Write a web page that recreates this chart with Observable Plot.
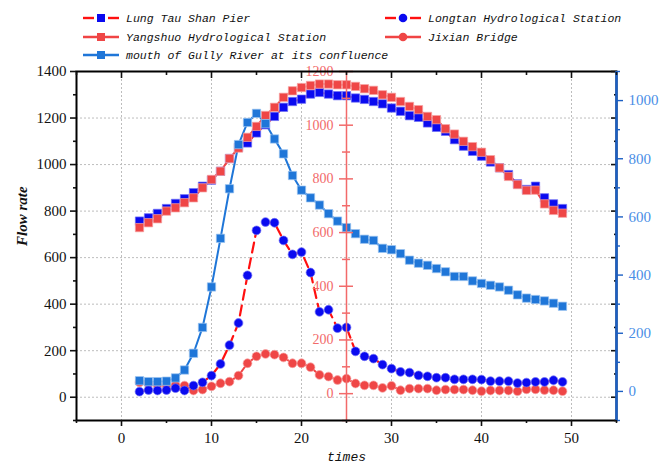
<!DOCTYPE html>
<html><head><meta charset="utf-8">
<script src="https://cdn.jsdelivr.net/npm/d3@7"></script>
<script src="https://cdn.jsdelivr.net/npm/@observablehq/plot@0.6"></script>
<style>
html,body{margin:0;padding:0;background:#fff;}
#wrap{position:relative;width:672px;height:466px;overflow:hidden;}
#legend{position:absolute;left:0;top:0;width:672px;height:68px;font-family:"Liberation Mono",monospace;font-style:italic;font-size:11.5px;color:#111;}
.item{position:absolute;display:flex;align-items:center;height:16px;white-space:nowrap;}
.item svg{margin-right:7px;}
</style></head>
<body><div id="wrap"><div id="chart"></div><div id="legend"></div></div>
<script>
// ---- data (left-axis units) ----
const times = [2,3,4,5,6,7,8,9,10,11,12,13,14,15,16,17,18,19,20,21,22,23,24,25,26,27,28,29,30,31,32,33,34,35,36,37,38,39,40,41,42,43,44,45,46,47,48,49];
const lungTau = [757,771,790,811,833,853,879,907,933,971,1026,1074,1093,1136,1171,1207,1246,1271,1281,1303,1310,1303,1296,1296,1286,1280,1271,1261,1243,1229,1210,1203,1179,1160,1143,1107,1079,1057,1036,1011,986,957,917,893,907,857,831,811];
const yangshuo = [729,750,767,800,814,836,857,900,936,971,1026,1071,1117,1164,1211,1246,1289,1317,1331,1340,1346,1346,1343,1343,1336,1326,1319,1300,1289,1271,1250,1236,1207,1193,1154,1131,1100,1077,1053,1021,986,949,914,889,890,831,803,791];
const gully = [71,67,67,69,83,117,189,300,474,683,896,1086,1181,1220,1176,1110,1046,953,890,857,826,789,757,729,703,679,674,640,634,617,589,576,567,553,539,519,519,500,489,481,474,460,440,426,420,414,404,391];
const longtan = [24,31,29,31,39,29,50,64,93,143,224,319,524,717,753,750,674,614,624,536,367,376,297,300,197,176,166,140,123,109,106,94,90,84,84,77,77,77,76,69,69,69,61,63,66,66,73,66];
const jixian = [64,57,53,50,53,50,29,33,47,60,67,93,146,176,186,183,171,146,146,129,96,89,74,80,59,51,51,40,49,30,37,37,37,30,33,33,33,30,26,29,29,29,26,34,34,31,30,26];

const seriesNames = ["Lung Tau Shan Pier","Longtan Hydrological Station","Yangshuo Hydrological Station","Jixian Bridge","mouth of Gully River at its confluence"];

// ---- axes / ticks ----
const xDomain = [-5, 55];
const yDomain = [-100, 1400];
const redDomain = [-100, 1200];
const blueDomain = [-100, 1100];
const xMajor = [0,10,20,30,40,50];
const xMinor = [-5,5,15,25,35,45,55];
const yMajor = [0,200,400,600,800,1000,1200,1400];
const yMinor = [-100,100,300,500,700,900,1100,1300];
const yGrid = [0,200,400,600,800,1000,1200];
const redMajor = [0,200,400,600,800,1000,1200];
const redMinor = [-100,100,300,500,700,900,1100];
const blueMajor = [0,200,400,600,800,1000];
const blueMinor = [-100,100,300,500,700,900,1100];
const redAxisAt = 25;

// ---- layout & style ----
const W = 672, H = 466, mL = 76, mR = 56, mT = 71, mB = 46;
const pxPerX = (W - mL - mR) / (xDomain[1] - xDomain[0]);
const cRedLine = "#f04444", cRedDash = "#ff1010", cBlueSq = "#0a0af0", cRedSq = "#ef4646", cGully = "#1f76d8";
const cRedAxis = "#f26a6a", cBlueAxis = "#1b5fc4", cBlueLabel = "#4a8ee6";
const serif = "'Liberation Serif', 'Times New Roman', serif";

const scaleTo = (dom) => t => yDomain[0] + (t - dom[0]) * (yDomain[1]-yDomain[0])/(dom[1]-dom[0]);
const scaleFrom = (dom) => v => dom[0] + (v - yDomain[0]) * (dom[1]-dom[0])/(yDomain[1]-yDomain[0]);
const redToLeft = scaleTo(redDomain), blueToLeft = scaleTo(blueDomain), leftToBlue = scaleFrom(blueDomain);

const rows = (vals) => times.map((t, i) => ({t, v: vals[i]}));
const dLung = rows(lungTau), dYang = rows(yangshuo), dGully = rows(gully), dLong = rows(longtan), dJix = rows(jixian);

const empty = () => "";
const chart = Plot.plot({
  width: W, height: H, marginLeft: mL, marginRight: mR, marginTop: mT, marginBottom: mB,
  x: {domain: xDomain},
  y: {domain: yDomain},
  style: {fontFamily: serif, fontSize: "15px", color: "#111", background: "transparent"},
  marks: [
    Plot.gridY(yGrid, {stroke: "#bdbdbd", strokeOpacity: 1, strokeDasharray: "2,2"}),
    Plot.gridX(xMajor, {stroke: "#bdbdbd", strokeOpacity: 1, strokeDasharray: "2,2"}),
    // lines
    Plot.line(dLung, {x: "t", y: "v", stroke: cRedDash, strokeWidth: 2, strokeDasharray: "9,6"}),
    Plot.line(dYang, {x: "t", y: "v", stroke: cRedLine, strokeWidth: 2}),
    Plot.line(dJix, {x: "t", y: "v", stroke: cRedLine, strokeWidth: 2}),
    Plot.line(dLong, {x: "t", y: "v", stroke: cRedDash, strokeWidth: 2.2, strokeDasharray: "10,6"}),
    Plot.line(dGully, {x: "t", y: "v", stroke: cGully, strokeWidth: 2}),
    // markers
    Plot.dot(dJix, {x: "t", y: "v", r: 4.4, fill: cRedSq, stroke: "#f7a3a3", strokeWidth: 0.7}),
    Plot.dot(dLong, {x: "t", y: "v", r: 4.4, fill: cBlueSq, stroke: "#7070f5", strokeWidth: 0.7}),
    Plot.dot(dLung, {x: "t", y: "v", r: 4.7, symbol: "square", fill: cBlueSq, stroke: "#7070f5", strokeWidth: 0.7}),
    Plot.dot(dYang, {x: "t", y: "v", r: 4.7, symbol: "square", fill: cRedSq, stroke: "#f7a3a3", strokeWidth: 0.7}),
    Plot.dot(dGully, {x: "t", y: "v", r: 4.7, symbol: "square", fill: cGully, stroke: "#9cc4f0", strokeWidth: 0.7}),
    // red middle axis
    Plot.ruleX([redAxisAt], {stroke: cRedAxis, strokeWidth: 1.5}),
    Plot.ruleY(redMajor, {y: redToLeft, x1: () => redAxisAt - 7/pxPerX, x2: () => redAxisAt + 7/pxPerX, stroke: cRedAxis, strokeWidth: 1.5}),
    Plot.ruleY(redMinor, {y: redToLeft, x1: () => redAxisAt - 4/pxPerX, x2: () => redAxisAt + 4/pxPerX, stroke: cRedAxis, strokeWidth: 1.5}),
    Plot.text(redMajor, {x: () => redAxisAt, y: redToLeft, text: d => String(d), textAnchor: "end", dx: -13, fill: cRedAxis, fontSize: 14, fontFamily: serif}),
    // frame
    Plot.frame({stroke: "#000", strokeWidth: 2}),
    // left axis
    Plot.axisY(yMajor, {anchor: "left", tickSize: 6, tickPadding: 4, strokeWidth: 1.6, tickFormat: d => String(d), label: null}),
    Plot.axisY(yMinor, {anchor: "left", tickSize: 3, strokeWidth: 1.6, tickFormat: empty, label: null}),
    // right inward black ticks
    Plot.axisY(yMajor, {anchor: "right", tickSize: 6, dx: -6, strokeWidth: 1.6, tickFormat: empty, label: null}),
    Plot.axisY(yMinor, {anchor: "right", tickSize: 3, dx: -3, strokeWidth: 1.6, tickFormat: empty, label: null}),
    // blue right axis
    Plot.ruleX([xDomain[1]], {stroke: cBlueAxis, strokeWidth: 2.5}),
    Plot.axisY(blueMajor.map(blueToLeft), {anchor: "right", tickSize: 6, tickPadding: 6, strokeWidth: 1.4, stroke: cBlueAxis, fill: cBlueLabel, tickFormat: d => String(Math.round(leftToBlue(d))), label: null}),
    Plot.axisY(blueMinor.map(blueToLeft), {anchor: "right", tickSize: 3, strokeWidth: 1.4, stroke: cBlueAxis, tickFormat: empty, label: null}),
    // bottom & top
    Plot.axisX(xMajor, {anchor: "bottom", tickSize: 6, tickPadding: 6, strokeWidth: 1.6, tickFormat: d => String(d), label: null}),
    Plot.axisX(xMinor, {anchor: "bottom", tickSize: 3, strokeWidth: 1.6, tickFormat: empty, label: null}),
    Plot.axisX(xMajor, {anchor: "top", tickSize: 6, dy: 6, strokeWidth: 1.6, tickFormat: empty, label: null}),
    Plot.axisX(xMinor, {anchor: "top", tickSize: 3, dy: 3, strokeWidth: 1.6, tickFormat: empty, label: null}),
    // axis titles
    Plot.text(["Flow rate"], {frameAnchor: "left", dx: -54, rotate: -90, fontSize: 15, fontStyle: "italic", fontWeight: "bold", fontFamily: serif, fill: "#111"}),
    Plot.text(["times"], {frameAnchor: "bottom", dy: 40, fontSize: 13, fontStyle: "italic", fontFamily: "'Liberation Mono', monospace", fill: "#111"})
  ]
});
document.getElementById("chart").appendChild(chart);

// ---- legend ----
function sym(kind) {
  const s = [];
  if (kind.dashed) {
    s.push(`<line x1="0" y1="7" x2="11" y2="7" stroke="${cRedDash}" stroke-width="2.4"/>`);
    s.push(`<line x1="25" y1="7" x2="36" y2="7" stroke="${cRedDash}" stroke-width="2.4"/>`);
  } else {
    s.push(`<line x1="0" y1="7" x2="36" y2="7" stroke="${kind.line}" stroke-width="2.4"/>`);
  }
  if (kind.shape === "square") s.push(`<rect x="14" y="3" width="8" height="8" fill="${kind.fill}"/>`);
  else s.push(`<circle cx="18" cy="7" r="4.3" fill="${kind.fill}"/>`);
  return `<svg width="36" height="14">${s.join("")}</svg>`;
}
const legendItems = [
  {name: seriesNames[0], dashed: true, shape: "square", fill: cBlueSq, left: 83, top: 10},
  {name: seriesNames[1], dashed: true, shape: "circle", fill: cBlueSq, left: 385, top: 10},
  {name: seriesNames[2], line: cRedLine, shape: "square", fill: cRedSq, left: 83, top: 29},
  {name: seriesNames[3], line: cRedLine, shape: "circle", fill: cRedSq, left: 385, top: 29},
  {name: seriesNames[4], line: cGully, shape: "square", fill: cGully, left: 83, top: 47}
];
const lg = document.getElementById("legend");
for (const it of legendItems) {
  const d = document.createElement("div");
  d.className = "item";
  d.style.left = it.left + "px";
  d.style.top = it.top + "px";
  d.innerHTML = sym(it) + `<span>${it.name}</span>`;
  lg.appendChild(d);
}
</script>
</body></html>
